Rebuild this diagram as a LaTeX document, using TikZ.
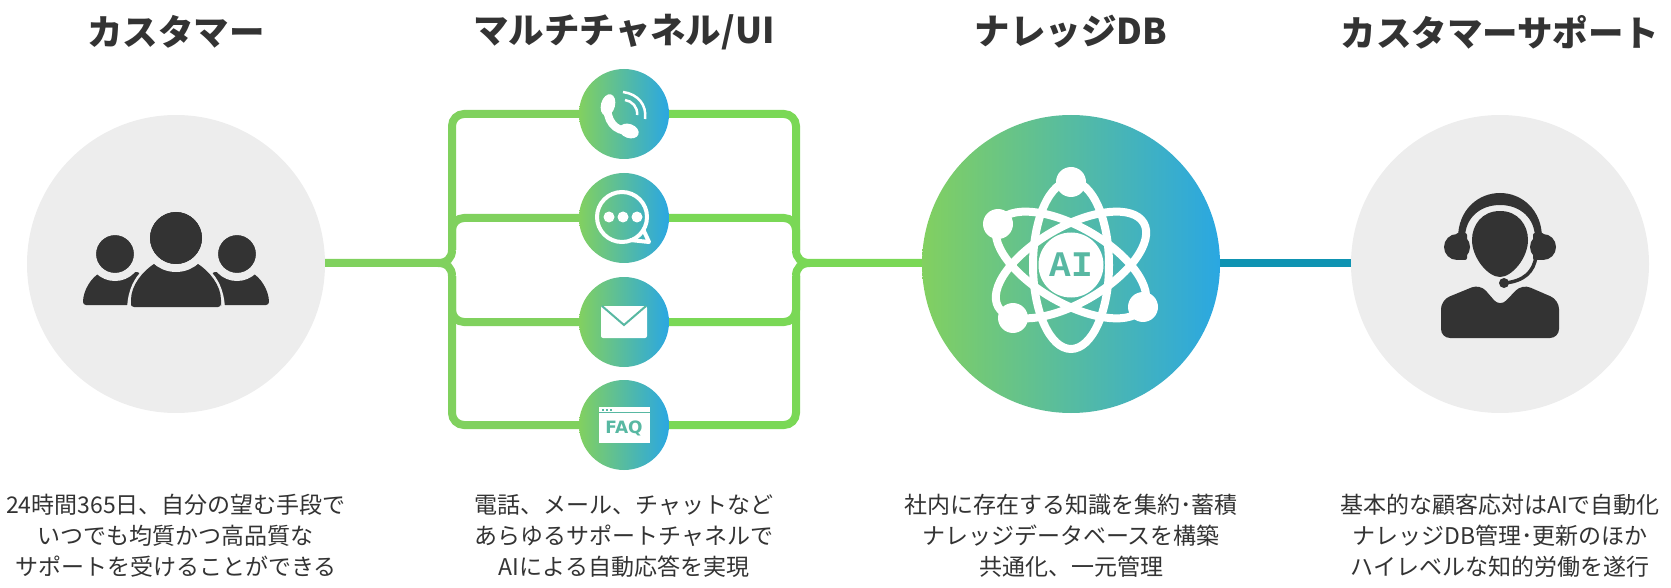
\documentclass[tikz,border=0pt]{standalone}
\usepackage{fontspec}
\setmainfont{Noto Sans CJK JP}
\definecolor{inkdark}{HTML}{333333}
\definecolor{softgray}{HTML}{EDEDED}
\definecolor{gradgreen}{HTML}{82D060}
\definecolor{gradblue}{HTML}{2AA7E2}
\definecolor{linkgreen}{HTML}{80D15E}
\definecolor{linklime}{HTML}{7AD856}
\definecolor{linkteal}{HTML}{0E93B2}
\definecolor{icontint}{HTML}{58B8A2}
\begin{document}
\begin{tikzpicture}[x=1pt, y=-1pt,
    softdisc/.style={circle, inner sep=0pt, minimum size=298pt, fill=softgray},
    bigdisc/.style={circle, inner sep=0pt, minimum size=298pt, left color=gradgreen, right color=gradblue},
    smalldisc/.style={circle, inner sep=0pt, minimum size=90pt, left color=gradgreen, right color=gradblue},
    heading/.style={font=\fontsize{35.5}{40}\selectfont\bfseries, text=inkdark, inner sep=0pt},
    caption/.style={font=\fontsize{23}{31}\selectfont, text=inkdark, align=center, inner sep=0pt},
    linkl/.style={draw=linkgreen, line width=8pt, rounded corners=12pt},
    linkr/.style={draw=linklime, line width=8pt, rounded corners=12pt},
    orbit/.style={draw=white, line width=8pt}]
  \useasboundingbox (0,0) rectangle (1671,588);

  \node[softdisc] (customer) at (176,264) {};
  \node[bigdisc] (aidb) at (1071,264) {};
  \node[softdisc] (agent) at (1500,264) {};
  \node[smalldisc] (phone) at (624,114) {};
  \node[smalldisc] (chat) at (624,218) {};
  \node[smalldisc] (mail) at (624,322) {};
  \node[smalldisc] (faq) at (624,425) {};

  \node[heading] (title1) at (176,32) {カスタマー};
  \node[heading] (title2) at (624,32) {マルチチャネル/UI};
  \node[heading] (title3) at (1071,32) {ナレッジDB};
  \node[heading] (title4) at (1500,32) {カスタマーサポート};

  \node[caption] (text1) at (176,536) {24時間365日、自分の望む手段で\\いつでも均質かつ高品質な\\サポートを受けることができる};
  \node[caption] (text2) at (624,536) {電話、メール、チャットなど\\あらゆるサポートチャネルで\\AIによる自動応答を実現};
  \node[caption] (text3) at (1071,536) {社内に存在する知識を集約･蓄積\\ナレッジデータベースを構築\\共通化、一元管理};
  \node[caption] (text4) at (1500,536) {基本的な顧客応対はAIで自動化\\ナレッジDB管理･更新のほか\\ハイレベルな知的労働を遂行};

  % left brace
  \coordinate (lup) at (452,250);
  \coordinate (ldown) at (452,276);
  \draw[linkl] (lup) |- (phone.west);
  \draw[linkl] (lup) |- (chat.west);
  \draw[linkl] (ldown) |- (mail.west);
  \draw[linkl] (ldown) |- (faq.west);
  \draw[draw=linkgreen, line width=8pt] (lup) .. controls (452,258) and (447,263) .. (438,263) -- (customer.east |- 438,263);
  \draw[draw=linkgreen, line width=8pt] (ldown) .. controls (452,268) and (447,263) .. (438,263);

  % right brace
  \coordinate (rup) at (796,250);
  \coordinate (rdown) at (796,276);
  \draw[linkr] (rup) |- (phone.east);
  \draw[linkr] (rup) |- (chat.east);
  \draw[linkr] (rdown) |- (mail.east);
  \draw[linkr] (rdown) |- (faq.east);
  \draw[draw=linklime, line width=8pt] (rup) .. controls (796,258) and (801,263) .. (810,263) -- (aidb.west |- 810,263);
  \draw[draw=linklime, line width=8pt] (rdown) .. controls (796,268) and (801,263) .. (810,263);

  \draw[draw=linkteal, line width=8pt] (aidb.east |- 0,263) -- (agent.west |- 0,263);

  % customers
  \fill[inkdark, rounded corners=3pt] (83,305) .. controls (83,290) and (92,277) .. (102,272) -- (140,272) -- (140,305) -- cycle;
  \fill[inkdark, rounded corners=3pt] (269,305) .. controls (269,290) and (260,277) .. (250,272) -- (212,272) -- (212,305) -- cycle;
  \filldraw[fill=inkdark, draw=softgray, line width=8pt] (115,254) circle (23);
  \filldraw[fill=inkdark, draw=softgray, line width=8pt] (237,254) circle (23);
  \fill[softgray] (127,311) .. controls (127,280) and (145,258) .. (176,258) .. controls (207,258) and (225,280) .. (225,311) -- cycle;
  \fill[inkdark, rounded corners=3pt] (131,307) -- (131,303) .. controls (131,285) and (143,271) .. (157,262) -- (195,262) .. controls (209,271) and (221,285) .. (221,303) -- (221,307) -- cycle;
  \filldraw[fill=inkdark, draw=softgray, line width=8pt] (176,238) circle (30);
  \fill[inkdark] (176,238) circle (26);

  % agent
  \fill[inkdark] (1500,211) .. controls (1518,211) and (1528,225) .. (1528,240) .. controls (1528,258) and (1512,277) .. (1500,277) .. controls (1488,277) and (1472,258) .. (1472,240) .. controls (1472,225) and (1482,211) .. (1500,211) -- cycle;
  \fill[inkdark] (1458,238) .. controls (1458,210) and (1478,193) .. (1500,193) .. controls (1522,193) and (1542,210) .. (1542,238) -- (1535,238) .. controls (1535,218) and (1520,205) .. (1500,205) .. controls (1480,205) and (1465,218) .. (1465,238) -- cycle;
  \fill[inkdark] (1457,247) circle (13);
  \fill[inkdark, rounded corners=2pt] (1456,233) rectangle (1467,260);
  \fill[inkdark] (1543,247) circle (13);
  \fill[inkdark, rounded corners=2pt] (1533,233) rectangle (1544,260);
  \draw[inkdark, line width=3.5pt] (1536,256) .. controls (1534,272) and (1524,281) .. (1505,283);
  \fill[inkdark] (1504,283) circle (5);
  \fill[inkdark, rounded corners=9pt] (1441,338) -- (1441,300) -- (1480,284) -- (1500,307) -- (1522,284) -- (1559,300) -- (1559,338) -- cycle;

  % atom
  \draw[orbit] (1071,265) ellipse (38 and 84);
  \draw[orbit, rotate around={60:(1071,265)}] (1071,265) ellipse (38 and 84);
  \draw[orbit, rotate around={-60:(1071,265)}] (1071,265) ellipse (38 and 84);
  \fill[white] (1071,182) circle (15);
  \fill[white] (998,224) circle (15);
  \fill[white] (1143,307) circle (15);
  \fill[white] (1013,318) circle (15);
  \node[circle, fill=white, inner sep=0pt, minimum size=65pt, text=icontint, font=\fontspec{Liberation Mono}\fontsize{36}{36}\selectfont\bfseries] (ailabel) at (1071,265) {AI};

  % phone
  \draw[white, line width=8pt] (608,103) .. controls (605,120) and (615,132) .. (630,131);
  \fill[white, rotate around={-15:(608,105)}] (608,105) ellipse (7 and 11);
  \fill[white, rotate around={70:(629,131)}] (629,131) ellipse (7 and 10);
  \draw[white, line width=2.5pt] (623,92) .. controls (638,94) and (647,105) .. (645,119);
  \draw[white, line width=2.5pt] (625,100) .. controls (632,101) and (638,107) .. (637,115);

  % chat
  \draw[white, line width=4pt] (622,217) circle (25);
  \draw[white, line width=4pt, line join=round] (643,229) -- (649,242) -- (630,240);
  \fill[white] (609,217) circle (5.5);
  \fill[white] (623,217) circle (5.5);
  \fill[white] (637,217) circle (5.5);

  % mail
  \fill[white, rounded corners=2pt] (601,306) rectangle (647,338);
  \draw[icontint, line width=2pt] (602,306) -- (624,325) -- (646,306);

  % faq
  \fill[white] (599,407) rectangle (650,443);
  \draw[icontint, line width=1pt] (599,412.5) -- (650,412.5);
  \fill[icontint] (602,408.5) rectangle (604,410.5);
  \fill[icontint] (606,408.5) rectangle (608,410.5);
  \fill[icontint] (610,408.5) rectangle (612,410.5);
  \node[text=icontint, font=\fontspec{DejaVu Sans}\fontsize{17}{17}\selectfont\bfseries, inner sep=0pt] (faqlabel) at (624,428) {FAQ};
\end{tikzpicture}
\end{document}
